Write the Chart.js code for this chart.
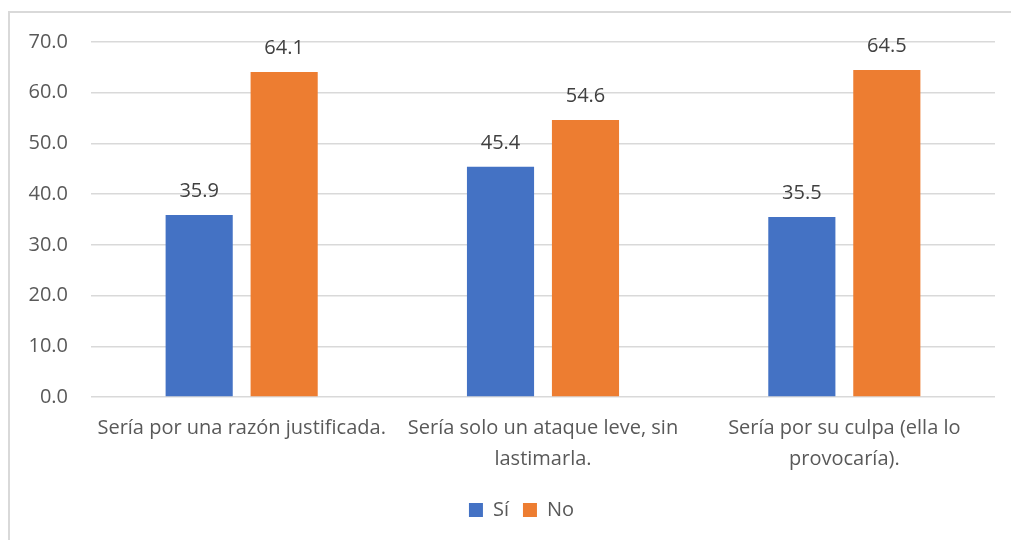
<!DOCTYPE html>
<html>
<head>
<meta charset="utf-8">
<script src="https://cdn.jsdelivr.net/npm/chart.js@4.4.0/dist/chart.umd.min.js"></script>
<style>
    body { margin: 0; background: #fff; }
    #wrap { position: relative; width: 1011px; height: 540px; }
    #frame { position: absolute; left: 8px; top: 11px; width: 1010px; height: 540px;
             border: 2px solid #d9d9d9; box-sizing: border-box; }
    canvas { position: absolute; left: 0; top: 0; }
</style>
</head>
<body>
<div id="wrap">
    <div id="frame"></div>
    <canvas id="chart" width="1011" height="540"></canvas>
</div>
<script>
const categories = [
    'Sería por una razón justificada.',
    ['Sería solo un ataque leve, sin', 'lastimarla.'],
    ['Sería por su culpa (ella lo', 'provocaría).']
];
const si = [35.9, 45.4, 35.5];
const no = [64.1, 54.6, 64.5];
const yTicks = [0, 10, 20, 30, 40, 50, 60, 70];

const FONT = "'Open Sans', sans-serif";

// etiquetas de valor encima de cada barra
const valueLabels = {
    id: 'valueLabels',
    afterDatasetsDraw(chart) {
        let ctx = chart.ctx;
        ctx.save();
        ctx.font = "20px " + FONT;
        ctx.fillStyle = '#404040';
        ctx.textAlign = 'center';
        ctx.textBaseline = 'alphabetic';
        chart.data.datasets.forEach((ds, i) => {
            chart.getDatasetMeta(i).data.forEach((bar, j) => {
                ctx.fillText(ds.data[j].toFixed(1), bar.x, bar.y - 18);
            });
        });
        ctx.restore();
    }
};

// la leyenda de Excel va un poco a la derecha
const legendShift = {
    id: 'legendShift',
    afterLayout(chart) {
        chart.legend.left += 24;
        chart.legend.right += 24;
        chart.legend.top += 3;
        chart.legend.bottom += 3;
    }
};

new Chart(document.getElementById('chart'), {
    type: 'bar',
    data: {
        labels: categories,
        datasets: [
            {label: 'Sí', data: si, backgroundColor: '#4472C4'},
            {label: 'No', data: no, backgroundColor: '#ED7D31'}
        ]
    },
    options: {
        responsive: false,
        animation: false,
        datasets: {bar: {categoryPercentage: 0.564, barPercentage: 0.79}},
        layout: {padding: {top: 42, left: 0, right: 16, bottom: 13}},
        plugins: {
            legend: {
                position: 'bottom',
                labels: {
                    boxWidth: 14, boxHeight: 14, padding: 14,
                    color: '#595959', font: {family: FONT, size: 20}
                }
            },
            tooltip: {enabled: false}
        },
        scales: {
            x: {
                grid: {display: false},
                border: {display: false},
                ticks: {color: '#595959', font: {family: FONT, size: 20, lineHeight: 1.55}, maxRotation: 0, padding: 8}
            },
            y: {
                min: 0, max: 70,
                afterBuildTicks: (axis) => { axis.ticks = yTicks.map(v => ({value: v})); },
                afterFit: (axis) => { axis.width = 91; },
                grid: {color: '#d9d9d9', lineWidth: 1.5, drawTicks: false},
                border: {display: false},
                ticks: {
                    color: '#595959', font: {family: FONT, size: 20}, padding: 23,
                    callback: (v) => Number(v).toFixed(1)
                }
            }
        }
    },
    plugins: [valueLabels, legendShift]
});
</script>
</body>
</html>
